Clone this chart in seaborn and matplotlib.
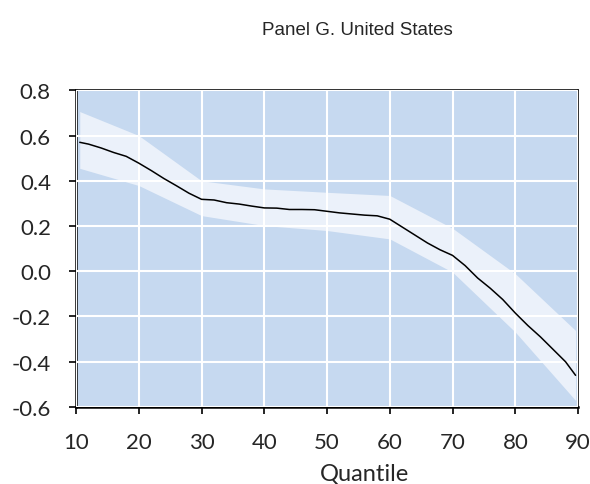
import matplotlib
matplotlib.use("Agg")
import matplotlib.pyplot as plt
import seaborn as sns
import pandas as pd

# Point estimate across quantiles
quantile = [10.6, 12, 14, 16, 18, 20, 22, 24, 26, 28, 30, 32, 34, 36, 38, 40,
            42, 44, 46, 48, 50, 52, 54, 56, 58, 60, 62, 64, 66, 68, 70, 72,
            74, 76, 78, 80, 82, 84, 86, 88, 89.6]
estimate = [0.570, 0.562, 0.545, 0.525, 0.508, 0.478, 0.445, 0.410, 0.378,
            0.345, 0.318, 0.315, 0.303, 0.297, 0.288, 0.280, 0.279, 0.273,
            0.273, 0.272, 0.265, 0.258, 0.253, 0.248, 0.245, 0.230, 0.195,
            0.160, 0.125, 0.095, 0.070, 0.025, -0.030, -0.075, -0.125,
            -0.185, -0.240, -0.290, -0.345, -0.400, -0.460]

# Confidence band at deciles
band_q = [10.6, 20, 30, 40, 50, 60, 70, 80, 89.6]
band_upper = [0.706, 0.600, 0.400, 0.364, 0.349, 0.335, 0.190, -0.011, -0.262]
band_lower = [0.455, 0.379, 0.246, 0.202, 0.180, 0.143, -0.004, -0.269, -0.571]

x_ticks = [10, 20, 30, 40, 50, 60, 70, 80, 90]
y_ticks = [-0.6, -0.4, -0.2, 0.0, 0.2, 0.4, 0.6, 0.8]

sns.set_theme(style="white", rc={
    "axes.facecolor": "#C6D9F0",
    "grid.color": "white",
})
plt.rcParams["font.family"] = ["Lato", "DejaVu Sans"]

df = pd.DataFrame({"Quantile": quantile, "Estimate": estimate})

fig = plt.figure(figsize=(5.9, 4.85), dpi=100)
ax = fig.add_axes([0.1288, 0.1588, 0.851, 0.6530])

ax.fill_between(band_q, band_lower, band_upper, color="#EBF1FA", lw=0, zorder=1)
sns.lineplot(data=df, x="Quantile", y="Estimate", color="black", lw=1.1,
             ax=ax, zorder=3)

ax.set_xlim(10, 90)
ax.set_ylim(-0.6, 0.8)
ax.set_xticks(x_ticks)
ax.set_yticks(y_ticks)
ax.set_yticklabels([f"{v:.1f}" for v in y_ticks])
ax.grid(True, color="white", lw=1.5, zorder=2)
ax.set_axisbelow(False)
for line in ax.get_xgridlines() + ax.get_ygridlines():
    line.set_zorder(2)

ax.tick_params(axis="both", which="major", labelsize=16, direction="out",
               length=5, width=1.2, color="black", left=True, bottom=True)
ax.tick_params(axis="x", pad=13)
ax.tick_params(axis="y", pad=13)

for side in ["left", "bottom"]:
    ax.spines[side].set_color("black")
    ax.spines[side].set_linewidth(1.8)
for side in ["top", "right"]:
    ax.spines[side].set_color("#222222")
    ax.spines[side].set_linewidth(1.3)

ax.set_ylabel("")
ax.set_xlabel("Quantile", fontsize=17)
ax.xaxis.set_label_coords(0.574, -0.174)

fig.text(0.605, 0.938, "Panel G. United States", ha="center", va="center",
         fontsize=13.5, family=["Liberation Sans", "DejaVu Sans"])

fig.savefig("out.png", dpi=100)
